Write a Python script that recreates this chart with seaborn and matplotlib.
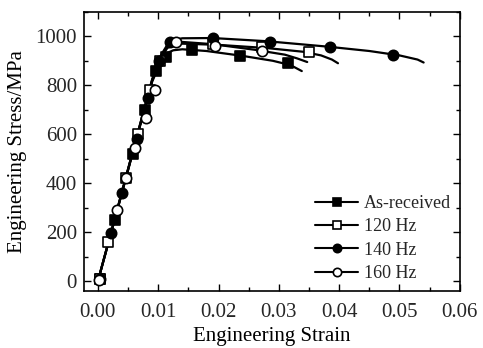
import matplotlib
matplotlib.use("Agg")
import matplotlib.pyplot as plt
from matplotlib.lines import Line2D
from matplotlib.ticker import MultipleLocator, AutoMinorLocator
import seaborn as sns
import pandas as pd

sns.set_theme(style="ticks")
plt.rcParams['font.family'] = ['Liberation Serif', 'DejaVu Serif']
plt.rcParams['mathtext.fontset'] = 'stix'

labels = ["As-received", "120 Hz", "140 Hz", "160 Hz"]

# curve points (strain, stress)
ar_x = [0.0, 0.003, 0.006, 0.009, 0.0105, 0.0115, 0.0125, 0.014, 0.018, 0.024, 0.029, 0.031, 0.0325, 0.0338]
ar_y = [0, 270, 545, 815, 900, 932, 943, 947, 940, 920, 900, 888, 875, 858]
h120_x = [0.0, 0.003, 0.006, 0.009, 0.0105, 0.0115, 0.0125, 0.014, 0.020, 0.028, 0.034, 0.037, 0.0388, 0.0398]
h120_y = [0, 272, 548, 820, 915, 952, 965, 970, 965, 952, 937, 922, 905, 890]
h140_x = [0.0, 0.003, 0.006, 0.009, 0.0105, 0.0115, 0.0125, 0.014, 0.019, 0.028, 0.038, 0.045, 0.050, 0.053, 0.054]
h140_y = [0, 275, 550, 825, 925, 965, 985, 992, 993, 980, 958, 940, 922, 905, 893]
h160_x = [0.0, 0.003, 0.006, 0.009, 0.0105, 0.0115, 0.0125, 0.014, 0.019, 0.026, 0.031, 0.033, 0.0347]
h160_y = [0, 273, 548, 822, 920, 958, 972, 977, 968, 945, 925, 910, 895]

# marker points
ar_mx = [0.0003, 0.0028, 0.0058, 0.0078, 0.0097, 0.0113, 0.0156, 0.0235, 0.0315]
ar_my = [10, 250, 520, 700, 860, 915, 945, 920, 890]
h120_mx = [0.0003, 0.0017, 0.0047, 0.0067, 0.0087, 0.0103, 0.0191, 0.0272, 0.0350]
h120_my = [8, 160, 420, 600, 780, 900, 967, 955, 935]
h140_mx = [0.0004, 0.0022, 0.0040, 0.0064, 0.0083, 0.0101, 0.0120, 0.0190, 0.0285, 0.0385, 0.0490]
h140_my = [8, 195, 360, 580, 750, 900, 975, 995, 977, 957, 925]
h160_mx = [0.0002, 0.0031, 0.0047, 0.0061, 0.0079, 0.0095, 0.0129, 0.0194, 0.0272]
h160_my = [5, 290, 420, 545, 665, 780, 975, 962, 942]

curves = [(ar_x, ar_y), (h120_x, h120_y), (h140_x, h140_y), (h160_x, h160_y)]
marks = [(ar_mx, ar_my), (h120_mx, h120_my), (h140_mx, h140_my), (h160_mx, h160_my)]
styles = [("s", "black"), ("s", "white"), ("o", "black"), ("o", "white")]

fig = plt.figure(figsize=(4.83, 3.48), dpi=100)
ax = fig.add_axes([0.174, 0.164, 0.778, 0.802])

for lab, (cx, cy) in zip(labels, curves):
    df = pd.DataFrame({"strain": cx, "stress": cy})
    sns.lineplot(data=df, x="strain", y="stress", sort=False, color="black", lw=1.6, ax=ax)

for lab, (mx, my), (m, fc) in zip(labels, marks, styles):
    df = pd.DataFrame({"strain": mx, "stress": my})
    sns.scatterplot(data=df, x="strain", y="stress", marker=m, s=55, facecolor=fc,
                    edgecolor="black", linewidth=1.2, ax=ax, zorder=3)

ax.set_xlim(-0.0023, 0.06)
ax.set_ylim(-40, 1100)
ax.xaxis.set_major_locator(MultipleLocator(0.01))
ax.xaxis.set_minor_locator(AutoMinorLocator(2))
ax.yaxis.set_major_locator(MultipleLocator(200))
ax.yaxis.set_minor_locator(AutoMinorLocator(2))
ax.xaxis.set_major_formatter(matplotlib.ticker.FormatStrFormatter('%.2f'))
ax.tick_params(which='both', direction='in', top=True, right=True, color='black', width=1)
ax.tick_params(which='major', length=5, labelsize=15)
ax.tick_params(axis='x', which='major', pad=9)
ax.tick_params(axis='y', which='major', pad=5)
ax.tick_params(which='minor', length=3)
for sp in ax.spines.values():
    sp.set_color('black')
    sp.set_linewidth(1.2)
ax.set_xlabel("Engineering Strain", fontsize=15, color='black', labelpad=3)
ax.set_ylabel("Engineering Stress/MPa", fontsize=15, color='black', labelpad=6)

handles = [Line2D([0], [0], color='black', lw=1.5, marker=m, markersize=6,
                  markerfacecolor=fc, markeredgecolor='black', markeredgewidth=1.2)
           for (m, fc) in styles]
ax.legend(handles, labels, loc='lower right', bbox_to_anchor=(1.0, 0.0), frameon=False,
          fontsize=13, handlelength=2.4, handletextpad=0.3, labelspacing=0.35, borderaxespad=0.1)

fig.savefig("out.png", dpi=100)
